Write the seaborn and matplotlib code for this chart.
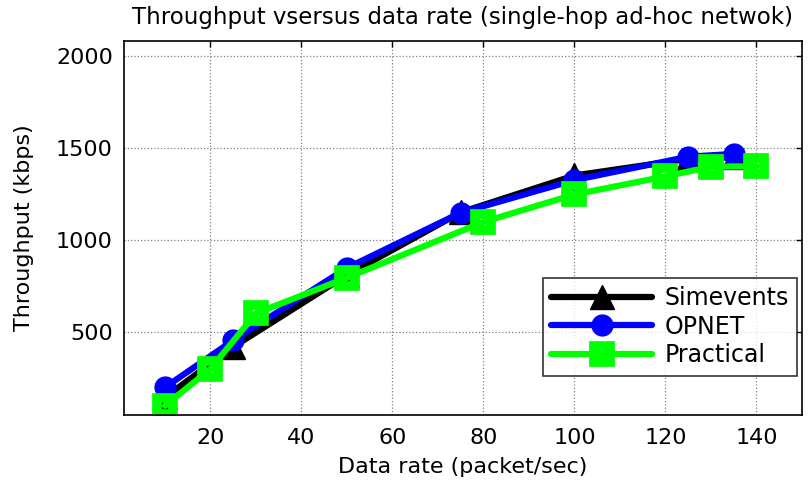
import matplotlib
matplotlib.use("Agg")
import matplotlib.pyplot as plt
import seaborn as sns
import pandas as pd

sim_x = [10, 25, 50, 75, 100, 125, 135]
sim_y = [145, 420, 810, 1150, 1350, 1440, 1450]
opnet_x = [10, 25, 50, 75, 100, 125, 135]
opnet_y = [200, 455, 848, 1148, 1325, 1452, 1467]
prac_x = [10, 20, 30, 50, 80, 100, 120, 130, 140]
prac_y = [100, 300, 602, 795, 1098, 1247, 1345, 1398, 1400]
xticks = [20, 40, 60, 80, 100, 120, 140]
yticks = [500, 1000, 1500, 2000]

sns.set_style("white")
plt.rcParams['font.family'] = ['DejaVu Sans']
plt.rcParams['text.color'] = 'black'
plt.rcParams['axes.labelcolor'] = 'black'

fig = plt.figure(figsize=(8.11, 4.88), dpi=100)
ax = fig.add_axes([124/811, 1-415/488, (802-124)/811, (415-41)/488])

series = [
    ("Simevents", sim_x, sim_y, "black", "^", 17, "black", 1),
    ("OPNET", opnet_x, opnet_y, "blue", "o", 15, "blue", 1),
    ("Practical", prac_x, prac_y, "#00ff00", "s", 11, "none", 7),
]
for name, xs, ys, col, mk, ms, mfc, mew in series:
    df = pd.DataFrame({"x": xs, "y": ys})
    sns.lineplot(data=df, x="x", y="y", ax=ax, color=col, marker=mk,
                 markersize=ms, markeredgewidth=mew, markerfacecolor=mfc,
                 markeredgecolor=col, linewidth=4.5, label=name,
                 estimator=None, sort=False)

ax.set_xlim(1, 150)
ax.set_ylim(50, 2080)
ax.set_xticks(xticks)
ax.set_yticks(yticks)
ax.tick_params(direction="in", length=4, top=True, right=True,
               labelsize=16, colors="black", labelcolor="black", width=1)
ax.tick_params(axis="x", pad=9)
ax.tick_params(axis="y", pad=8)
ax.grid(True, color="#808080", linestyle=":", linewidth=0.9)
for s in ax.spines.values():
    s.set_color("black")
    s.set_linewidth(1.2)

ax.set_xlabel("Data rate (packet/sec)", fontsize=16, labelpad=7, color="black")
ax.set_ylabel("Throughput (kbps)", fontsize=16, labelpad=16, color="black")
ax.set_title("Throughput vsersus data rate (single-hop ad-hoc netwok)",
             fontsize=16.5, pad=12, color="black")

leg = ax.legend(loc="lower right", bbox_to_anchor=(0.9925, 0.105),
                fontsize=17, handlelength=4.3, frameon=True, fancybox=False,
                edgecolor="black", borderpad=0.35, labelspacing=0.2,
                handletextpad=0.5, borderaxespad=0)
leg.get_frame().set_linewidth(1.2)
for t in leg.get_texts():
    t.set_color("black")

fig.savefig("out.png", dpi=100)
